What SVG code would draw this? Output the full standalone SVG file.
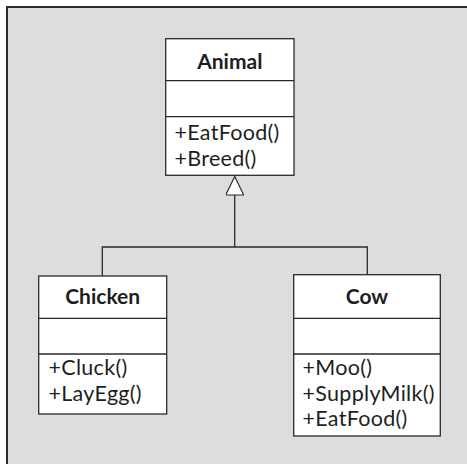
<svg xmlns="http://www.w3.org/2000/svg" width="467" height="464" viewBox="0 0 467 464">
<style>
.box{fill:#fff;stroke:#2a2a2a;stroke-width:1.3}
.div{stroke:#2a2a2a;stroke-width:1.3}
.title{font-family:Lato,"Noto Sans",sans-serif;font-weight:bold;font-size:21px;fill:#1e1e1e;text-anchor:middle}
.op{font-family:Lato,"Noto Sans",sans-serif;font-size:21.5px;letter-spacing:0.3px;fill:#1e1e1e}
.conn{fill:none;stroke:#2a2a2a;stroke-width:1.3}
</style>
<defs>
<marker id="gen" markerWidth="22" markerHeight="18" refX="19.5" refY="9" orient="auto" markerUnits="userSpaceOnUse">
<path d="M1,0 L19.5,9 L1,18 Z" fill="#fff" stroke="#2a2a2a" stroke-width="1.2"/>
</marker>
</defs>
<rect x="0" y="0" width="467" height="464" fill="#fff"/>
<rect x="7" y="7" width="470" height="470" fill="#dcdddf"/>
<path d="M7,470 L7,7 L475,7" fill="none" stroke="#2a2a2a" stroke-width="2"/>
<g id="connectors">
<path class="conn" d="M102.3,276 L102.3,247 L367.3,247 L367.3,274.7"/>
<path class="conn" d="M234.7,247 L234.7,176.5" marker-end="url(#gen)"/>
</g>
<g id="animal">
<rect class="box" x="165.7" y="38.7" width="128.3" height="136.6"/>
<line class="div" x1="165.7" y1="80.7" x2="294" y2="80.7"/>
<line class="div" x1="165.7" y1="116.7" x2="294" y2="116.7"/>
<text class="title" x="229.8" y="69">Animal</text>
<text class="op" x="174.5" y="139.5">+EatFood()</text>
<text class="op" x="174.5" y="165.7">+Breed()</text>
</g>
<g id="chicken">
<rect class="box" x="38.7" y="276" width="128" height="138"/>
<line class="div" x1="38.7" y1="318.3" x2="166.7" y2="318.3"/>
<line class="div" x1="38.7" y1="354" x2="166.7" y2="354"/>
<text class="title" x="102.7" y="304">Chicken</text>
<text class="op" x="48.5" y="375">+Cluck()</text>
<text class="op" x="48.5" y="400.5">+LayEgg()</text>
</g>
<g id="cow">
<rect class="box" x="293.7" y="274.7" width="146.6" height="161.3"/>
<line class="div" x1="293.7" y1="318.3" x2="440.3" y2="318.3"/>
<line class="div" x1="293.7" y1="354" x2="440.3" y2="354"/>
<text class="title" x="367" y="304">Cow</text>
<text class="op" x="302.5" y="375">+Moo()</text>
<text class="op" x="302.5" y="400.5">+SupplyMilk()</text>
<text class="op" x="302.5" y="426">+EatFood()</text>
</g>
</svg>
